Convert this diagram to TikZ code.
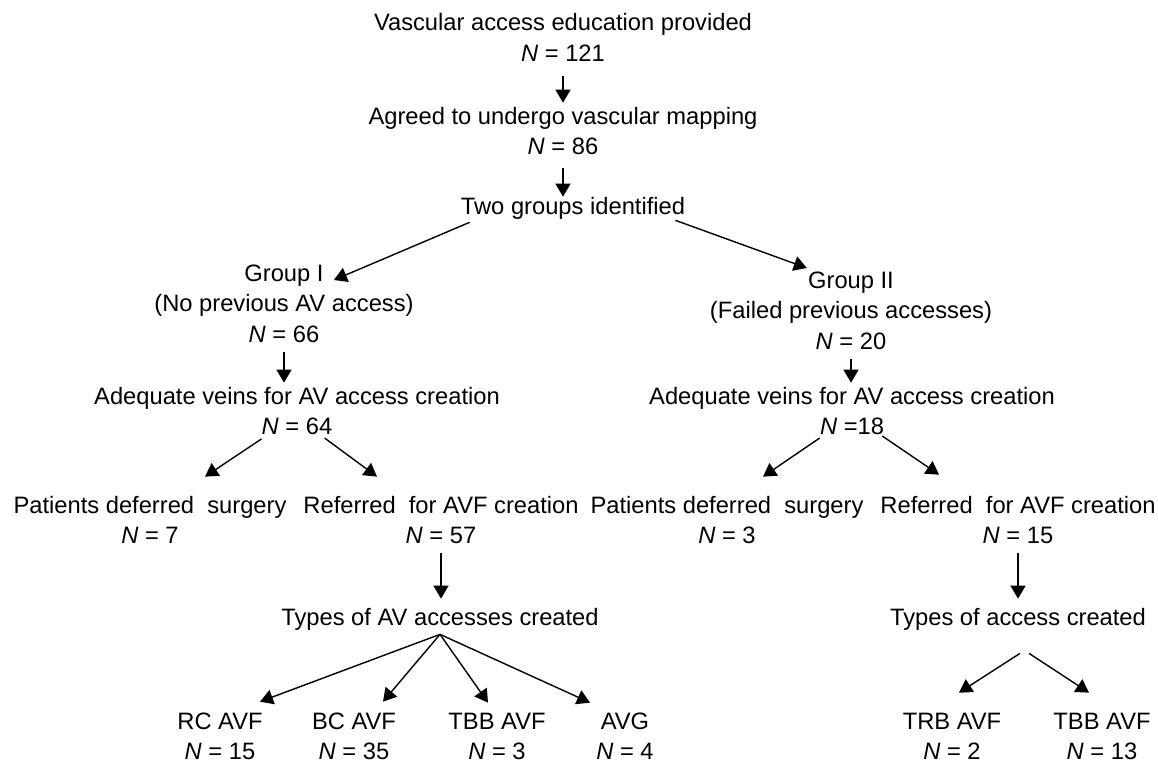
\documentclass[tikz,border=0pt]{standalone}
\usepackage{fontspec}
\setmainfont{Liberation Sans}
\usetikzlibrary{arrows.meta, positioning, calc}

\begin{document}
\begin{tikzpicture}[
        x=0.02cm, y=-0.02cm,
        lbl/.style={inner sep=0pt, text height=0.42cm, text depth=0.18cm, font=\fontsize{13.5}{17}\selectfont},
        arrow/.style={-{Triangle[length=2.6mm, width=3mm]}, line width=0.8pt}
    ]
        \useasboundingbox (0,0) rectangle (1158,764);

        % Education and mapping
        \node[lbl] (edu) at (563,25) {Vascular access education provided};
        \node[lbl, below=0pt of edu] (edun) {\textit{N} = 121};
        \node[lbl] (agr) at (563,118) {Agreed to undergo vascular mapping};
        \node[lbl, below=0pt of agr] (agrn) {\textit{N} = 86};
        \node[lbl] (two) at (573,208) {Two groups identified};
        \draw[arrow, shorten <=1mm] (edun) -- (agr);
        \draw[arrow, shorten <=0.8mm, shorten >=-0.8mm] (agrn.south) -- (agrn.south |- two.north);

        % Group I
        \node[lbl] (g1) at (284,275) {Group I};
        \node[lbl, below=0pt of g1] (g1d) {(No previous AV access)};
        \node[lbl, below=0pt of g1d] (g1n) {\textit{N} = 66};
        \node[lbl] (ad1) at (297,398) {Adequate veins for AV access creation};
        \node[lbl, below=0pt of ad1] (ad1n) {\textit{N} = 64};
        \node[lbl] (pat1) at (150,507) {Patients deferred\ \ surgery};
        \node[lbl, below=0pt of pat1] (pat1n) {\textit{N} = 7};
        \node[lbl] (ref1) at (441,507) {Referred\ \ for AVF creation};
        \node[lbl, below=0pt of ref1] (ref1n) {\textit{N} = 57};
        \node[lbl] (typ1) at (440,619) {Types of AV accesses created};
        \draw[arrow] ($(two.south west)+(9,-1)$) -- ($(g1.east)+(10,5)$);
        \draw[arrow] (g1n.south) -- (g1n.south |- ad1.north);
        \draw[arrow] ($(ad1n.south west)+(0,-5)$) -- ($(pat1.north)+(55,-15)$);
        \draw[arrow] ($(ad1n.south east)+(-8,-6)$) -- ($(ref1.north)+(-64,-15)$);
        \draw[arrow, shorten >=1mm] (ref1n.south) -- (ref1n.south |- typ1.north);

        % Group I access types
        \node[lbl] (rc) at (220,723) {RC AVF};
        \node[lbl, below=0pt of rc] (rcn) {\textit{N} = 15};
        \node[lbl] (bc) at (354,723) {BC AVF};
        \node[lbl, below=0pt of bc] (bcn) {\textit{N} = 35};
        \node[lbl] (tbb1) at (497,723) {TBB AVF};
        \node[lbl, below=0pt of tbb1] (tbb1n) {\textit{N} = 3};
        \node[lbl] (avg) at (625,723) {AVG};
        \node[lbl, below=0pt of avg] (avgn) {\textit{N} = 4};
        \draw[arrow] (typ1.south) -- ($(rc.north)+(40,-6)$);
        \draw[arrow] (typ1.south) -- ($(bc.north)+(29,-6)$);
        \draw[arrow] (typ1.south) -- ($(tbb1.north)+(-9,-5)$);
        \draw[arrow] (typ1.south) -- ($(avg.north)+(-35,-5)$);

        % Group II
        \node[lbl] (g2) at (851,282) {Group II};
        \node[lbl, below=0pt of g2] (g2d) {(Failed previous accesses)};
        \node[lbl, below=0pt of g2d] (g2n) {\textit{N} = 20};
        \node[lbl] (ad2) at (852,398) {Adequate veins for AV access creation};
        \node[lbl, below=0pt of ad2] (ad2n) {\textit{N} =18};
        \node[lbl] (pat2) at (727,507) {Patients deferred\ \ surgery};
        \node[lbl, below=0pt of pat2] (pat2n) {\textit{N} = 3};
        \node[lbl] (ref2) at (1018,507) {Referred\ \ for AVF creation};
        \node[lbl, below=0pt of ref2] (ref2n) {\textit{N} = 15};
        \node[lbl] (typ2) at (1018,619) {Types of access created};
        \draw[arrow] ($(two.south east)+(-10,-3)$) -- ($(g2.west)+(-1,-14)$);
        \draw[arrow] (g2n.south) -- (g2n.south |- ad2.north);
        \draw[arrow] ($(ad2n.south west)+(0,-6)$) -- ($(pat2.north)+(36,-15)$);
        \draw[arrow] ($(ad2n.south east)+(-2,-8)$) -- ($(ref2.north)+(-79,-17)$);
        \draw[arrow, shorten >=1mm] (ref2n.south) -- (ref2n.south |- typ2.north);

        % Group II access types
        \node[lbl] (trb) at (952,723) {TRB AVF};
        \node[lbl, below=0pt of trb] (trbn) {\textit{N} = 2};
        \node[lbl] (tbb2) at (1102,723) {TBB AVF};
        \node[lbl, below=0pt of tbb2] (tbb2n) {\textit{N} = 13};
        \draw[arrow] ($(typ2.south)+(2,19)$) -- ($(trb.north)+(7,-15)$);
        \draw[arrow] ($(typ2.south)+(11,19)$) -- ($(tbb2.north)+(-13,-15)$);
\end{tikzpicture}
\end{document}
